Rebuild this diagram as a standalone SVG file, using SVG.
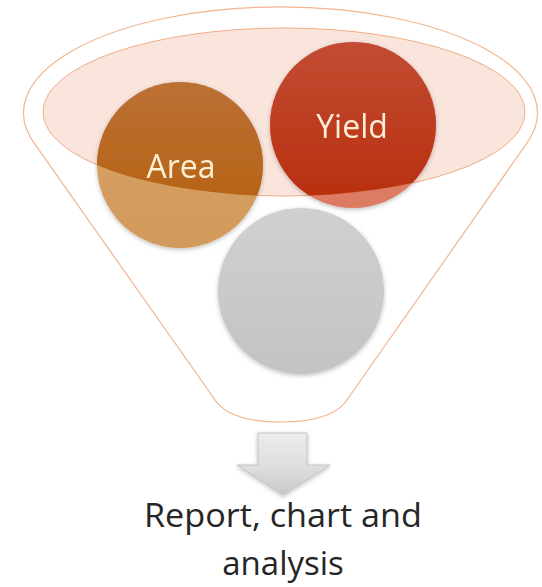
<svg xmlns="http://www.w3.org/2000/svg" width="542" height="587" viewBox="0 0 542 587">
  <style>
    .lbl { font-family: "Open Sans", "Liberation Sans", sans-serif; font-size: 32px; fill: #fcefd6; text-anchor: middle; }
    .cap { font-family: "Open Sans", "Liberation Sans", sans-serif; font-size: 33px; fill: #262626; text-anchor: middle; }
  </style>
  <defs>
    <filter id="sh" x="-20%" y="-20%" width="140%" height="140%">
      <feDropShadow dx="0" dy="1.5" stdDeviation="2" flood-color="#000" flood-opacity="0.25"/>
    </filter>
    <clipPath id="inner">
      <ellipse cx="284" cy="112" rx="241" ry="84"/>
    </clipPath>
    <linearGradient id="gArea" x1="0" y1="0" x2="0" y2="1">
      <stop offset="0" stop-color="#bb7035"/>
      <stop offset="1" stop-color="#b45f08"/>
    </linearGradient>
    <linearGradient id="gAreaL" x1="0" y1="0" x2="0" y2="1">
      <stop offset="0" stop-color="#d8a36a"/>
      <stop offset="1" stop-color="#d29a5a"/>
    </linearGradient>
    <linearGradient id="gYield" x1="0" y1="0" x2="0" y2="1">
      <stop offset="0" stop-color="#c24c34"/>
      <stop offset="1" stop-color="#b82e0c"/>
    </linearGradient>
    <linearGradient id="gYieldL" x1="0" y1="0" x2="0" y2="1">
      <stop offset="0" stop-color="#e08872"/>
      <stop offset="1" stop-color="#dc7a62"/>
    </linearGradient>
    <linearGradient id="gGray" x1="0" y1="0" x2="0" y2="1">
      <stop offset="0" stop-color="#d0d0d0"/>
      <stop offset="1" stop-color="#c3c3c3"/>
    </linearGradient>
    <linearGradient id="gArrow" x1="0" y1="0" x2="0" y2="1">
      <stop offset="0" stop-color="#ececec"/>
      <stop offset="0.55" stop-color="#dedede"/>
      <stop offset="1" stop-color="#c8c8c8"/>
    </linearGradient>
  </defs>

  <g id="funnel">
    <path d="M 34.5,143.6 A 257 106 0 1 1 526.5,143.6 L 349,397 Q 335,422 281,422 Q 227,422 213,397 Z" fill="#ffffff" stroke="#f2b58e" stroke-width="1.2"/>
    <ellipse cx="284" cy="112" rx="241" ry="84" fill="#fae5dd" stroke="#f0ad84" stroke-width="1"/>
  </g>

  <g id="area" filter="url(#sh)">
    <circle cx="180" cy="165" r="83" fill="url(#gAreaL)"/>
    <circle cx="180" cy="165" r="83" fill="url(#gArea)" clip-path="url(#inner)"/>
    <text class="lbl" x="181" y="178">Area</text>
  </g>

  <g id="yield" filter="url(#sh)">
    <circle cx="353" cy="125" r="83" fill="url(#gYieldL)"/>
    <circle cx="353" cy="125" r="83" fill="url(#gYield)" clip-path="url(#inner)"/>
    <text class="lbl" x="352" y="138">Yield</text>
  </g>

  <g id="result-circle" filter="url(#sh)">
    <circle cx="301" cy="291" r="83" fill="url(#gGray)"/>
  </g>

  <g id="connectors">
    <path d="M 258,433 L 307,433 L 307,465 L 330,465 L 283,495 L 237,465 L 258,465 Z" fill="url(#gArrow)" stroke="#c4c4c4" stroke-width="1" filter="url(#sh)"/>
  </g>

  <g id="output-label">
    <text class="cap" x="283" y="527" textLength="278" lengthAdjust="spacingAndGlyphs">Report, chart and</text>
    <text class="cap" x="283" y="575">analysis</text>
  </g>
</svg>
